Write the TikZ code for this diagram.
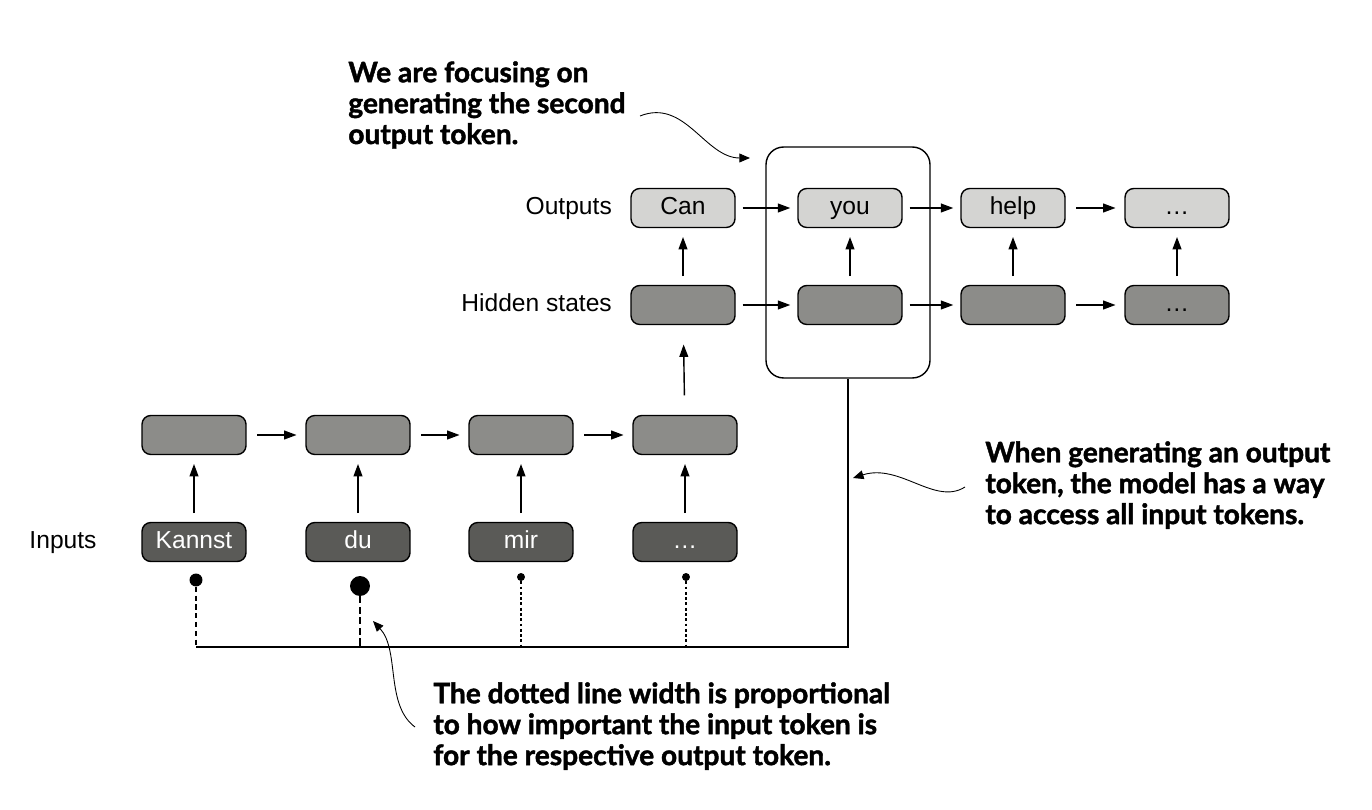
\documentclass[tikz,border=0pt]{standalone}
\usepackage{fontspec}
\setmainfont{Liberation Sans}
\newfontfamily\notefont{Lato}[BoldFeatures={FakeBold=1.6}]
\usetikzlibrary{positioning, arrows.meta}

\definecolor{outgray}{HTML}{D4D4D2}
\definecolor{hidgray}{HTML}{8C8C89}
\definecolor{ingray}{HTML}{5A5A57}

\tikzset{
  tok/.style={rectangle, rounded corners=5pt, draw=black, line width=0.8pt, minimum width=2.08cm, minimum height=0.78cm, text height=1.65ex, text depth=0.3ex, font=\fontsize{14}{16}\selectfont},
  outtok/.style={tok, fill=outgray},
  hidtok/.style={tok, fill=hidgray},
  intok/.style={tok, fill=ingray, text=white},
  lbl/.style={text height=1.65ex, text depth=0.3ex, font=\fontsize{14}{16}\selectfont},
  note/.style={font=\notefont\bfseries\fontsize{16}{17.6}\selectfont, align=left, anchor=north west, inner sep=0pt},
  flow/.style={-{Triangle[length=7pt,width=5pt]}, line width=0.8pt},
  callout/.style={-{Triangle[length=6pt,width=5pt]}, line width=0.5pt},
  wdot/.style={circle, fill=black, inner sep=0pt}
}

\begin{document}
\begin{tikzpicture}[x=0.02cm, y=-0.02cm]
            \useasboundingbox (0,0) rectangle (1372,810);

            % input tokens
            \node[intok] (in1) at (194, 542) {Kannst};
            \node[intok] (in2) at (358, 542) {du};
            \node[intok] (in3) at (521, 542) {mir};
            \node[intok] (in4) at (685, 542) {\dots};
            \node[lbl] (inlbl) at (63, 542) {Inputs};

            % encoder states
            \node[hidtok] (enc1) at (194, 435) {};
            \node[hidtok] (enc2) at (358, 435) {};
            \node[hidtok] (enc3) at (521, 435) {};
            \node[hidtok] (enc4) at (685, 435) {};

            % decoder hidden states
            \node[hidtok] (dec1) at (683, 305) {};
            \node[hidtok] (dec2) at (850, 305) {};
            \node[hidtok] (dec3) at (1013, 305) {};
            \node[hidtok] (dec4) at (1177, 305) {\dots};
            \node[lbl, anchor=east] (declbl) at (618, 305) {Hidden states};

            % outputs
            \node[outtok] (out1) at (683, 208) {Can};
            \node[outtok] (out2) at (850, 208) {you};
            \node[outtok] (out3) at (1013, 208) {help};
            \node[outtok] (out4) at (1177, 208) {\dots};
            \node[lbl, anchor=east] (outlbl) at (618, 208) {Outputs};

            % focus box
            \node[draw=black, line width=0.8pt, rounded corners=10pt, minimum width=3.28cm, minimum height=4.62cm] (focus) at (848, 262.5) {};

            % attention weights
            \node[wdot, minimum size=13pt*0.567] (dot1) at (196, 580) {};
            \node[wdot, minimum size=20pt*0.567] (dot2) at (360, 586) {};
            \node[wdot, minimum size=8pt*0.567] (dot3) at (521, 577) {};
            \node[wdot, minimum size=8pt*0.567] (dot4) at (686, 577) {};

            \coordinate (b1) at (196, 647);
            \coordinate (b2) at (360, 647);
            \coordinate (b3) at (521, 647);
            \coordinate (b4) at (686, 647);
            \coordinate (b5) at (848, 647);

            \draw[line width=0.9pt, dash pattern=on 3pt off 2pt] (dot1) -- (b1);
            \draw[line width=1.4pt, dash pattern=on 4pt off 2pt] (dot2) -- (b2);
            \draw[line width=0.7pt, dash pattern=on 1.6pt off 1.4pt] (dot3) -- (b3);
            \draw[line width=0.7pt, dash pattern=on 1.6pt off 1.4pt] (dot4) -- (b4);
            \draw[line width=0.8pt] (b1) -- (b5) -- (focus.south);

            % connectors
            \draw[flow, shorten <=5pt, shorten >=5pt] (in1) -- (enc1);
            \draw[flow, shorten <=5pt, shorten >=5pt] (in2) -- (enc2);
            \draw[flow, shorten <=5pt, shorten >=5pt] (in3) -- (enc3);
            \draw[flow, shorten <=5pt, shorten >=5pt] (in4) -- (enc4);
            \draw[flow, shorten <=6pt, shorten >=5pt] (enc1) -- (enc2);
            \draw[flow, shorten <=6pt, shorten >=5pt] (enc2) -- (enc3);
            \draw[flow, shorten <=6pt, shorten >=5pt] (enc3) -- (enc4);
            \draw[flow, shorten <=11pt, shorten >=11pt] (enc4) -- (dec1);
            \draw[flow, shorten <=5pt, shorten >=5pt] (dec1) -- (out1);
            \draw[flow, shorten <=5pt, shorten >=5pt] (dec2) -- (out2);
            \draw[flow, shorten <=5pt, shorten >=5pt] (dec3) -- (out3);
            \draw[flow, shorten <=5pt, shorten >=5pt] (dec4) -- (out4);
            \draw[flow, shorten <=4pt, shorten >=4pt] (dec1) -- (dec2);
            \draw[flow, shorten <=4pt, shorten >=4pt] (dec2) -- (dec3);
            \draw[flow, shorten <=6pt, shorten >=5pt] (dec3) -- (dec4);
            \draw[flow, shorten <=4pt, shorten >=4pt] (out1) -- (out2);
            \draw[flow, shorten <=4pt, shorten >=4pt] (out2) -- (out3);
            \draw[flow, shorten <=6pt, shorten >=5pt] (out3) -- (out4);

            % notes
            \node[note] (note1) at (348, 61) {We are focusing on\\generating the second\\output token.};
            \node[note] (note2) at (985, 441) {When generating an output\\token, the model has a way\\to access all input tokens.};
            \node[note] (note3) at (433, 682) {The dotted line width is proportional\\to how important the input token is\\for the respective output token.};

            \coordinate (c1s) at (640, 116);
            \coordinate (c1e) at (750, 158);
            \coordinate (c2s) at (965, 487);
            \coordinate (c2e) at (853, 478);
            \coordinate (c3s) at (415, 727);
            \coordinate (c3e) at (373, 621);
            \draw[callout] (c1s) .. controls (685,98) and (705,158) .. (c1e);
            \draw[callout] (c2s) .. controls (935,506) and (900,463) .. (c2e);
            \draw[callout] (c3s) .. controls (385,705) and (400,650) .. (c3e);
        \end{tikzpicture}
\end{document}
